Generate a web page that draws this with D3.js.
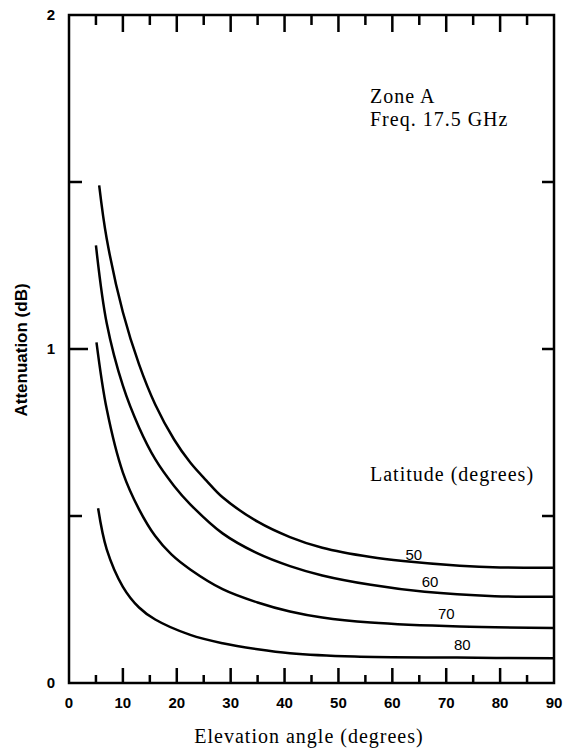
<!DOCTYPE html>
<html><head><meta charset="utf-8">
<script src="https://cdn.jsdelivr.net/npm/d3@7"></script>
<style>body{margin:0;background:#fff}svg{display:block}</style>
</head><body>
<script>
// Data
const latitudes = [50, 60, 70, 80];
const lat50 = [[5.6,1.49],[7,1.33],[10,1.11],[13,0.954],[16,0.834],[19.5,0.729],[22.5,0.66],[25.5,0.606],[28.5,0.556],[35,0.483],[41,0.437],[47,0.405],[56,0.377],[62,0.365],[72.5,0.351],[80,0.346],[90,0.345]];
const lat60 = [[5,1.31],[7,1.077],[10,0.89],[13,0.765],[16,0.67],[19.5,0.59],[22.5,0.535],[28.5,0.448],[35,0.388],[41,0.35],[47,0.322],[56,0.294],[66,0.273],[79,0.26],[90,0.258]];
const lat70 = [[5.1,1.02],[7,0.82],[10,0.63],[13,0.52],[16,0.44],[19,0.385],[22.5,0.34],[28.5,0.281],[35,0.241],[41,0.214],[47,0.196],[56,0.181],[72.5,0.169],[90,0.165]];
const lat80 = [[5.4,0.523],[7,0.4],[10,0.288],[13,0.226],[16,0.19],[22.5,0.144],[28.5,0.119],[35,0.101],[41,0.089],[53,0.079],[72,0.076],[90,0.074]];
const series = [lat50, lat60, lat70, lat80];
const labelPos = [[64,0.355],[67,0.275],[70,0.18],[73,0.087]];
const xTicksMajor = [0,10,20,30,40,50,60,70,80,90];
const xTicksMinor = [5,15,25,35,45,55,65,75,85];
const yTickLabels = [0,1,2];
const yTicksInner = [0.5,1,1.5];

const W = 567, H = 751;
const svg = d3.select("body").append("svg").attr("width", W).attr("height", H);
const x = d3.scaleLinear().domain([0, 90]).range([69, 554]);
const y = d3.scaleLinear().domain([0, 2]).range([683, 15]);

const sans = "'Liberation Sans', Arial, sans-serif";
const serif = "'Liberation Serif', 'Times New Roman', serif";

// Frame
svg.append("rect").attr("x", x(0)).attr("y", y(2)).attr("width", x(90)-x(0)).attr("height", y(0)-y(2))
  .attr("fill", "none").attr("stroke", "#000").attr("stroke-width", 2.5);

// Ticks: segments placed through the scales
const innerX = xTicksMajor.slice(1, -1);
const tickSegs = [];
innerX.forEach(d => { tickSegs.push([[x(d), y(0)], [x(d), y(0) - 15]]); tickSegs.push([[x(d), y(2)], [x(d), y(2) + 17]]); });
xTicksMinor.forEach(d => { tickSegs.push([[x(d), y(0)], [x(d), y(0) - 8]]); tickSegs.push([[x(d), y(2)], [x(d), y(2) + 10]]); });
yTicksInner.forEach(d => { tickSegs.push([[x(0), y(d)], [x(0) + (d === 1 ? 19 : 13), y(d)]]); tickSegs.push([[x(90), y(d)], [x(90) - 12, y(d)]]); });
svg.append("path")
  .attr("d", tickSegs.map(s => `M${s[0][0]},${s[0][1]}L${s[1][0]},${s[1][1]}`).join(""))
  .attr("fill", "none").attr("stroke", "#000").attr("stroke-width", 2.5);

// Tick labels
svg.append("g").selectAll("text").data(xTicksMajor).join("text")
  .attr("x", d => x(d)).attr("y", 708).attr("text-anchor","middle")
  .attr("font-family", sans).attr("font-weight","bold").attr("font-size", 15).text(d => d);
svg.append("g").selectAll("text").data(yTickLabels).join("text")
  .attr("x", 55).attr("y", d => y(d) + 5).attr("text-anchor","end")
  .attr("font-family", sans).attr("font-weight","bold").attr("font-size", 15).text(d => d);

// Curves
const line = d3.line().x(d => x(d[0])).y(d => y(d[1])).curve(d3.curveCatmullRom.alpha(0.5));
svg.append("g").selectAll("path").data(series).join("path")
  .attr("d", line).attr("fill","none").attr("stroke","#000").attr("stroke-width",2.5);

// Curve labels
svg.append("g").selectAll("text").data(latitudes).join("text")
  .attr("x", (d,i) => x(labelPos[i][0])).attr("y", (d,i) => y(labelPos[i][1]) - 4)
  .attr("text-anchor","middle").attr("font-family", sans).attr("font-size", 15).text(d => d);

// Annotations
const ann = svg.append("g").attr("font-family", serif).attr("font-size", 20).attr("letter-spacing", 1).attr("fill","#000");
ann.append("text").attr("x", 370).attr("y", 103).text("Zone A");
ann.append("text").attr("x", 370).attr("y", 126).text("Freq. 17.5 GHz");
ann.append("text").attr("x", 370).attr("y", 481).text("Latitude (degrees)");

// Axis titles
svg.append("text").attr("x", 309).attr("y", 743).attr("text-anchor","middle")
  .attr("font-family", serif).attr("font-size", 20).attr("letter-spacing", 1).text("Elevation angle (degrees)");
svg.append("text").attr("transform", "translate(27,350) rotate(-90)").attr("text-anchor","middle")
  .attr("font-family", sans).attr("font-weight","bold").attr("font-size", 17).text("Attenuation (dB)");
</script>
</body></html>
